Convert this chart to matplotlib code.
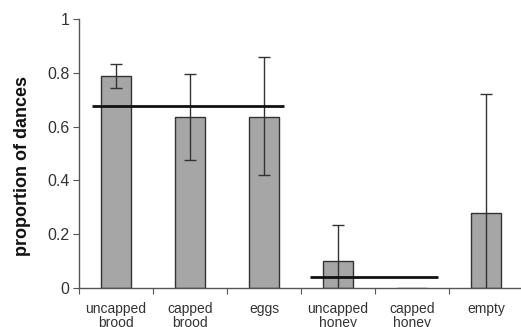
import matplotlib
matplotlib.use("Agg")
import matplotlib.pyplot as plt
import numpy as np

plt.rcParams['font.family'] = ['Liberation Sans', 'DejaVu Sans']

categories = ["uncapped\nbrood", "capped\nbrood", "eggs", "uncapped\nhoney", "capped\nhoney", "empty"]
values = [0.788, 0.637, 0.637, 0.100, 0.0, 0.280]
err_upper = [0.831, 0.797, 0.857, 0.233, 0.0, 0.720]
err_lower = [0.745, 0.476, 0.420, -0.033, 0.0, -0.160]
ref_lines = [(-0.32, 2.27, 0.678), (2.62, 4.35, 0.042)]
yticks = [0, 0.2, 0.4, 0.6, 0.8, 1]
ytick_labels = ["0", "0.2", "0.4", "0.6", "0.8", "1"]

fig = plt.figure(figsize=(5.21, 3.27), dpi=100)
ax = fig.add_axes([0.1516, 0.1193, 0.852, 0.8226])

x = np.arange(len(categories))
ax.bar(x, values, width=0.405, color="#a6a6a6", edgecolor="#333333", linewidth=1.0, zorder=2)

vals = np.array(values)
yerr = np.array([vals - np.array(err_lower), np.array(err_upper) - vals])
mask = vals > 0
ax.errorbar(x[mask], vals[mask], yerr=yerr[:, mask], fmt="none", ecolor="#333333",
            elinewidth=1.0, capsize=4.5, capthick=1.0, zorder=3)

for x0, x1, y in ref_lines:
    ax.plot([x0, x1], [y, y], color="#111111", linewidth=2.0, zorder=4, solid_capstyle="butt")

ax.set_xlim(-0.5, len(categories) - 0.5)
ax.set_ylim(0, 1)
ax.set_yticks(yticks)
ax.set_yticklabels(ytick_labels)
ax.set_xticks(np.arange(len(categories) + 1) - 0.5, minor=False)
ax.set_xticklabels([])
ax.set_xticks(x, minor=True)
ax.set_xticklabels(categories, minor=True, fontsize=10, color="#333333", linespacing=1.05)
ax.tick_params(axis="x", which="minor", length=0, pad=10)
ax.tick_params(axis="x", which="major", length=4, direction="out", color="#555555")
ax.tick_params(axis="y", length=4, direction="out", color="#555555", labelsize=11.5, labelcolor="#333333", pad=3)

for s in ["top", "right"]:
    ax.spines[s].set_visible(False)
ax.spines["left"].set_color("#555555")
ax.spines["bottom"].set_color("#555555")
ax.spines["left"].set_linewidth(1.0)
ax.spines["bottom"].set_linewidth(1.0)

ax.set_ylabel("proportion of dances", fontsize=13, fontweight="bold", color="#111111")
ax.yaxis.set_label_coords(-0.108, 0.453)

fig.savefig("out.png", dpi=100)
